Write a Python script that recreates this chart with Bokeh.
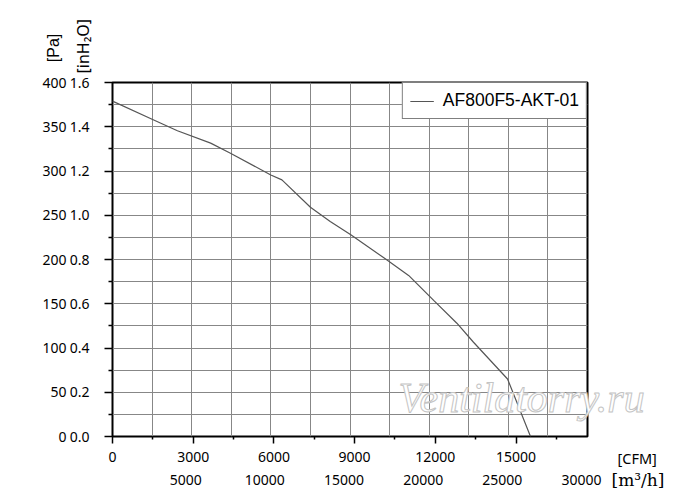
import math
from bokeh.plotting import figure
from bokeh.models import (Range1d, LinearAxis, FixedTicker, Grid, Label, Legend,
                          LegendItem, NumeralTickFormatter)
from bokeh.embed import file_html
from bokeh.resources import INLINE

# ---- data ----
series_name = "AF800F5-AKT-01"
flow_m3h = [0, 2500, 4100, 6200, 7450, 10000, 10700, 12500, 13750, 15050,
            17250, 18700, 20300, 21750, 22800, 24950, 26400]
pressure_pa = [379, 358.5, 345.5, 331.5, 320, 295.5, 290, 259, 243, 228,
               200.5, 182, 153.5, 128, 106.5, 65, 0]

cfm_ticks = [0, 3000, 6000, 9000, 12000, 15000]
cfm_minor = [1500, 4500, 7500, 10500, 13500, 16500]
m3h_ticks = [0, 5000, 10000, 15000, 20000, 25000, 30000]
pa_ticks = [0, 50, 100, 150, 200, 250, 300, 350, 400]
inh2o_ticks = [0.0, 0.2, 0.4, 0.6, 0.8, 1.0, 1.2, 1.4, 1.6]
inh2o_minor = [0.1, 0.3, 0.5, 0.7, 0.9, 1.1, 1.3, 1.5]
grid_x = [2500, 5000, 7500, 10000, 12500, 15000, 17500, 20000, 22500, 25000, 27500]
grid_y = [25, 50, 75, 100, 125, 150, 175, 200, 225, 250, 275, 300, 325, 350, 375]

M3H_PER_CFM = 1.69901
X_MAX = 30000
Y_MAX = 400
INH2O_MAX = 1.6
LABEL_SHIFT = 379  # m3/h labels are drawn slightly left of their positions

TICK_FONT = "Noto Sans"
TICK_SIZE = "14px"

p = figure(width=696, height=500,
           x_range=Range1d(0, X_MAX), y_range=Range1d(0, Y_MAX),
           x_axis_type=None, y_axis_type=None,
           output_backend="svg", toolbar_location=None,
           min_border_left=112, min_border_right=109,
           min_border_top=82, min_border_bottom=64)
p.extra_x_ranges = {"cfm": Range1d(0, X_MAX / M3H_PER_CFM),
                    "m3h_lab": Range1d(LABEL_SHIFT, X_MAX + LABEL_SHIFT)}
p.extra_y_ranges = {"inh2o": Range1d(0, INH2O_MAX)}

p.background_fill_color = "white"
p.border_fill_color = "white"
p.outline_line_color = "black"
p.outline_line_width = 2

# inner left axis: inH2O
ax_in = LinearAxis(y_range_name="inh2o",
                   ticker=FixedTicker(ticks=inh2o_ticks, minor_ticks=inh2o_minor),
                   formatter=NumeralTickFormatter(format="0.0"))
ax_in.axis_line_color = None
ax_in.major_tick_out = 8
ax_in.major_tick_in = 0
ax_in.minor_tick_out = 4
ax_in.minor_tick_in = 0
ax_in.major_tick_line_color = "black"
ax_in.minor_tick_line_color = "black"
ax_in.major_tick_line_width = 1.5
ax_in.minor_tick_line_width = 1.5
ax_in.major_label_standoff = 15
ax_in.major_label_text_font = TICK_FONT
ax_in.major_label_text_font_size = TICK_SIZE
ax_in.major_label_text_color = "black"
p.add_layout(ax_in, "left")

# outer left axis: Pa
ax_pa = LinearAxis(ticker=FixedTicker(ticks=pa_ticks))
ax_pa.axis_line_color = None
ax_pa.major_tick_line_color = None
ax_pa.minor_tick_line_color = None
ax_pa.major_tick_out = 0
ax_pa.major_tick_in = 0
ax_pa.major_label_standoff = 0
ax_pa.major_label_text_font = TICK_FONT
ax_pa.major_label_text_font_size = TICK_SIZE
ax_pa.major_label_text_color = "black"
p.add_layout(ax_pa, "left")

# inner bottom axis: CFM
ax_cfm = LinearAxis(x_range_name="cfm",
                    ticker=FixedTicker(ticks=cfm_ticks, minor_ticks=cfm_minor))
ax_cfm.axis_line_color = None
ax_cfm.major_tick_out = 7
ax_cfm.major_tick_in = 0
ax_cfm.minor_tick_out = 3
ax_cfm.minor_tick_in = 0
ax_cfm.major_tick_line_color = "black"
ax_cfm.minor_tick_line_color = "black"
ax_cfm.major_tick_line_width = 1.5
ax_cfm.minor_tick_line_width = 1.5
ax_cfm.major_label_standoff = 8
ax_cfm.major_label_text_font = TICK_FONT
ax_cfm.major_label_text_font_size = TICK_SIZE
ax_cfm.major_label_text_color = "black"
p.add_layout(ax_cfm, "below")

# outer bottom axis: m3/h
ax_m3 = LinearAxis(x_range_name="m3h_lab", ticker=FixedTicker(ticks=m3h_ticks))
ax_m3.axis_line_color = None
ax_m3.major_tick_line_color = None
ax_m3.minor_tick_line_color = None
ax_m3.major_tick_out = 0
ax_m3.major_tick_in = 0
ax_m3.major_label_standoff = 10
ax_m3.major_label_text_font = TICK_FONT
ax_m3.major_label_text_font_size = TICK_SIZE
ax_m3.major_label_text_color = "black"
p.add_layout(ax_m3, "below")

# grids
p.add_layout(Grid(dimension=0, ticker=FixedTicker(ticks=grid_x),
                  grid_line_color="#878787", grid_line_width=1))
p.add_layout(Grid(dimension=1, ticker=FixedTicker(ticks=grid_y),
                  grid_line_color="#878787", grid_line_width=1))

# curve
r = p.line(flow_m3h, pressure_pa, line_color="#555555", line_width=1.2)

# watermark (in the top side panel so it can run past the frame edge)
p.add_layout(Label(x=18064, y=43, level="overlay",
                   text="Ventilatorry.ru", text_font="Liberation Serif",
                   text_font_style="italic", text_font_size="42px",
                   text_color="white", text_outline_color="#c4c4c4",
                   text_baseline="middle", text_align="left"), "above")

legend = Legend(items=[LegendItem(label=series_name, renderers=[r])],
                location="top_right", margin=0, padding=7, spacing=0,
                glyph_width=24, glyph_height=18, label_height=18,
                label_standoff=9,
                label_text_font="Liberation Sans", label_text_font_size="17.5px",
                label_text_color="black",
                border_line_color="black", border_line_width=1.5,
                background_fill_color="white", background_fill_alpha=1)
p.add_layout(legend)

# axis unit labels (placed in side panels so they are not clipped to the frame)
p.add_layout(Label(x=-1832, y=441, text="[inH\u2082O]",
                   angle=math.pi / 2, text_font="Noto Sans", text_font_size="16px",
                   text_align="center", text_baseline="middle", text_color="black"), "left")
p.add_layout(Label(x=-3726, y=439, text="[Pa]",
                   angle=math.pi / 2, text_font="Liberation Sans", text_font_size="16px",
                   text_align="center", text_baseline="middle", text_color="black"), "left")
p.add_layout(Label(x=31895, y=-24.3, text="[CFM]",
                   text_font="Noto Sans", text_font_size="14.5px",
                   text_align="left", text_baseline="middle", text_color="black"), "right")
p.add_layout(Label(x=31516, y=-49.7, text="[m\u00b3/h]",
                   text_font="DejaVu Serif", text_font_size="17px",
                   text_align="left", text_baseline="middle", text_color="black"), "right")

open("out.html", "w").write(file_html(p, INLINE))
